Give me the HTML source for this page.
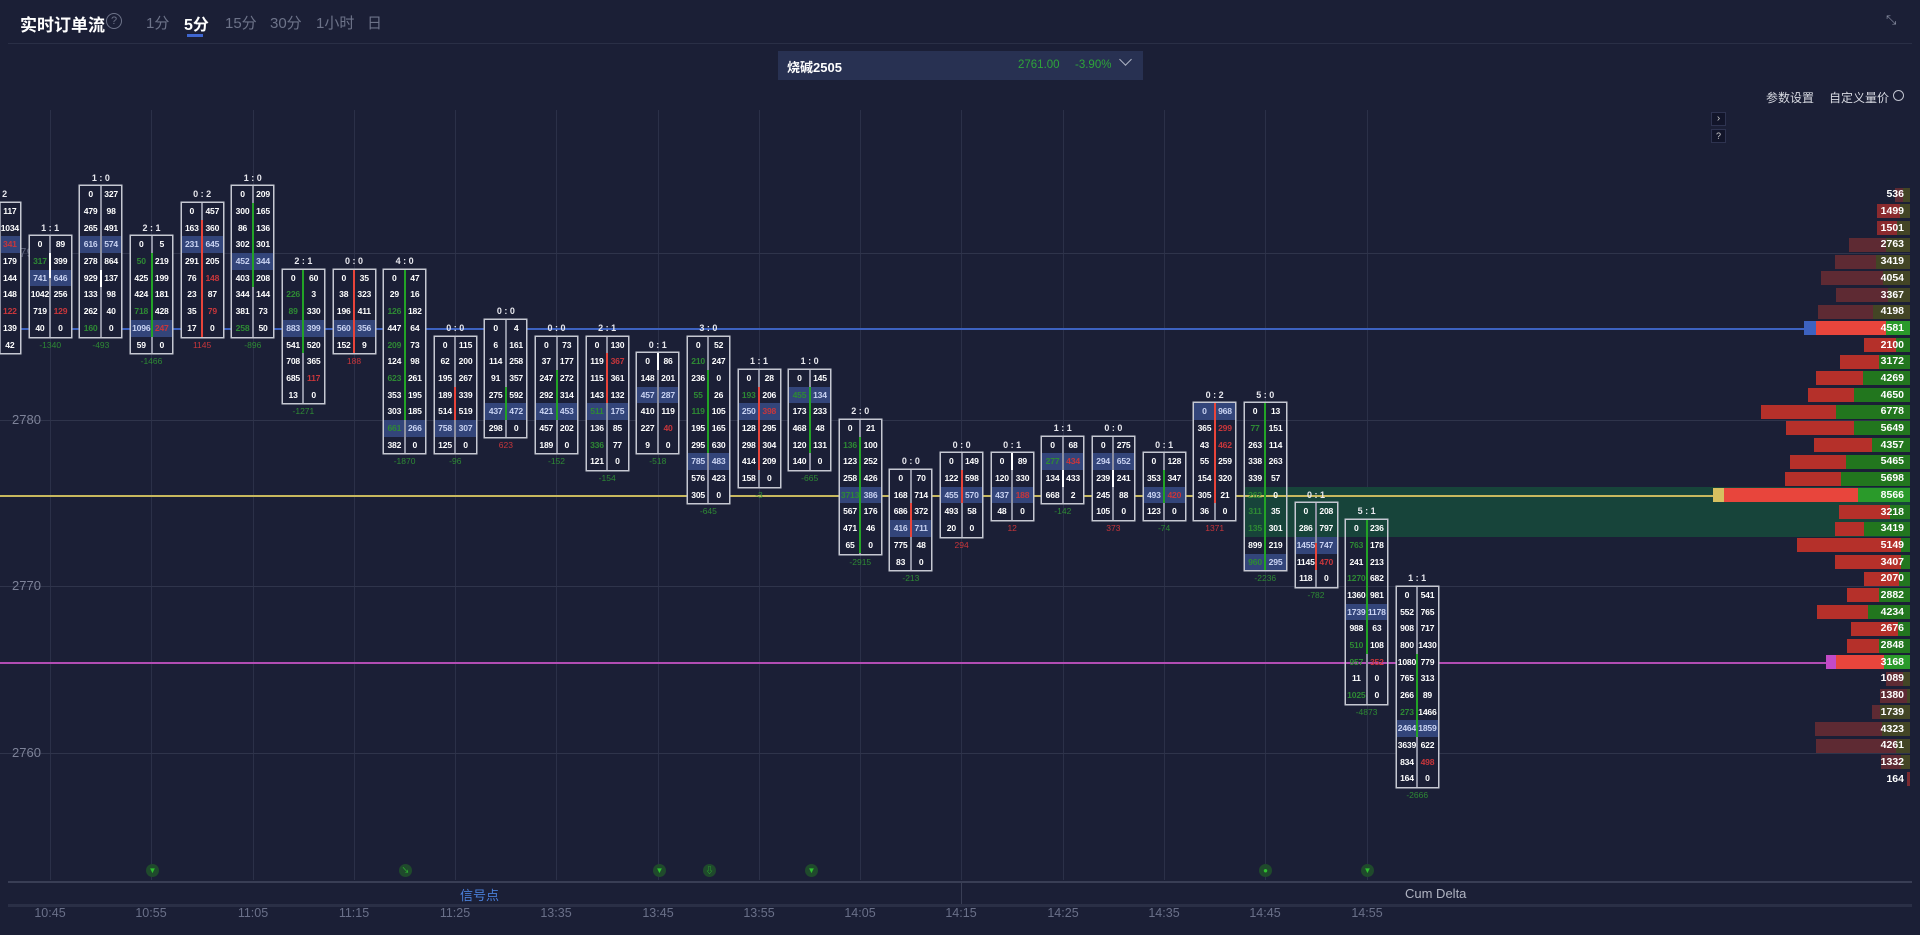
<!DOCTYPE html>
<html><head><meta charset="utf-8">
<style>
*{margin:0;padding:0;box-sizing:border-box}
body{width:1920px;height:935px;background:#1b1f36;position:relative;overflow:hidden;font-family:"Liberation Sans","Noto Sans CJK SC",sans-serif;color:#fff}
.a{position:absolute}
.vg{position:absolute;top:110px;height:770px;width:1px;background:#2b3048}
.hg{position:absolute;left:0;width:1910px;height:1px;background:#2f344b}
.pl{position:absolute;left:12px;font-size:13px;color:#7d8298}
.c{position:absolute;width:41px}
.l{position:absolute;top:-16.69px;left:-15px;right:-15px;text-align:center;font-size:9px;font-weight:bold;line-height:16.69px;color:#e8e8ee;white-space:pre}
.bx{position:relative;box-shadow:0 0 0 1.5px #c6c8d2;background:#1b1f36}
.bx:before{content:"";position:absolute;left:19.5px;top:0;bottom:0;width:2px;background:#8e91a2;z-index:1}
.r{display:flex;height:16.69px;line-height:16.69px}
.r i{flex:1;text-align:center;font-style:normal;font-weight:bold;font-size:8.6px;color:#fff;letter-spacing:-.2px}
.r.h{background:#33457a}
.r.h i{color:#c9d3f2}
i.g{color:#2e8a34!important}
i.d{color:#c8363b!important}
.b{position:absolute;left:19.5px;width:2px;z-index:2}
.bg{background:#22a326}.br{background:#e8443a}.bw{background:#fff}
.dl{text-align:center;font-size:8.5px;height:16.69px;line-height:16.69px;position:absolute;left:-15px;right:-15px}
.dg{color:#2e8a34}.dr{color:#c8363b}
.vp{position:absolute;right:10px;height:14px;display:flex}
.vn{position:absolute;right:16px;font-size:10.5px;font-weight:bold;color:#fff;text-align:right;line-height:16.69px}
.sg{position:absolute;top:864px;width:13px;height:13px;border-radius:50%;background:#1f4a2c;color:#2fbf2f;font-size:8px;text-align:center;line-height:13px}
.tl{position:absolute;top:906px;width:60px;margin-left:-30px;text-align:center;font-size:12.5px;color:#6a7089}
</style></head><body>

<!-- header -->
<div class="a" style="left:20px;top:11px;font-size:17px;font-weight:bold;color:#fff">实时订单流</div>
<div class="a" style="left:106px;top:13px;width:16px;height:16px;border:1.2px solid #6d7389;border-radius:50%;color:#6d7389;font-size:11px;text-align:center;line-height:14px">?</div>
<div class="a" style="left:146px;top:12px;font-size:15px;color:#6d7389">1分</div>
<div class="a" style="left:184px;top:11px;font-size:16px;font-weight:bold;color:#fff">5分</div>
<div class="a" style="left:187px;top:34px;width:16px;height:3px;background:#3f66d0"></div>
<div class="a" style="left:225px;top:12px;font-size:15px;color:#6d7389">15分</div>
<div class="a" style="left:270px;top:12px;font-size:15px;color:#6d7389">30分</div>
<div class="a" style="left:316px;top:12px;font-size:15px;color:#6d7389">1小时</div>
<div class="a" style="left:367px;top:12px;font-size:15px;color:#6d7389">日</div>
<div class="a" style="left:1886px;top:12px;font-size:13px;color:#8a8fa3">⤡</div>
<div class="a" style="left:8px;top:43px;width:1904px;height:1px;background:#2a2f46"></div>

<div class="a" style="left:778px;top:51px;width:365px;height:29px;background:#283152"></div>
<div class="a" style="left:787px;top:57px;font-size:13px;font-weight:bold;color:#fff">烧碱2505</div>
<div class="a" style="left:1018px;top:59px;font-size:11.5px;color:#2ea43a">2761.00</div>
<div class="a" style="left:1075px;top:59px;font-size:11.5px;color:#2ea43a">-3.90%</div>
<div class="a" style="left:1121px;top:55px;width:9px;height:9px;border-right:1.3px solid #aeb3c4;border-bottom:1.3px solid #aeb3c4;transform:rotate(45deg)"></div>

<div class="a" style="left:1766px;top:89px;font-size:12px;color:#d8dae2">参数设置</div>
<div class="a" style="left:1829px;top:89px;font-size:12px;color:#d8dae2">自定义量价</div>
<div class="a" style="left:1893px;top:90px;width:11px;height:11px;border:1.5px solid #c0c3cf;border-radius:50%"></div>
<div class="a" style="left:1711px;top:112px;width:15px;height:14px;background:#12152a;border:1px solid #2e3350;font-size:10px;color:#ccc;text-align:center;line-height:12px">›</div>
<div class="a" style="left:1711px;top:129px;width:15px;height:14px;background:#12152a;border:1px solid #2e3350;font-size:9px;color:#ccc;text-align:center;line-height:12px">?</div>

<!-- grid -->
<div class="vg" style="left:50px"></div><div class="vg" style="left:151px"></div><div class="vg" style="left:253px"></div><div class="vg" style="left:354px"></div><div class="vg" style="left:455px"></div><div class="vg" style="left:556px"></div><div class="vg" style="left:658px"></div><div class="vg" style="left:759px"></div><div class="vg" style="left:860px"></div><div class="vg" style="left:961px"></div><div class="vg" style="left:1063px"></div><div class="vg" style="left:1164px"></div><div class="vg" style="left:1265px"></div><div class="vg" style="left:1367px"></div>
<div class="hg" style="top:253px"></div><div class="hg" style="top:420px"></div><div class="hg" style="top:586px"></div><div class="hg" style="top:753px"></div>
<div class="pl" style="top:245px;color:#5b6078">2790</div>
<div class="pl" style="top:412px">2780</div>
<div class="pl" style="top:578px">2770</div>
<div class="pl" style="top:745px">2760</div>

<!-- green band + lines -->
<div class="a" style="left:1245px;top:487px;width:665px;height:50px;background:#17443a"></div>
<div class="a" style="left:0;top:328px;width:1806px;height:1.5px;background:#3d62c0"></div>
<div class="a" style="left:0;top:495px;width:1722px;height:1.5px;background:#c8b85e"></div>
<div class="a" style="left:0;top:662px;width:1838px;height:1.5px;background:#b24db4"></div>

<!-- candles -->
<div class="c" style="left:-20.9px;top:203.04px"><div class="l">    2</div><div class="bx">
<div class="r"><i>235</i><i>117</i></div><div class="r"><i>88</i><i>1034</i></div><div class="r h"><i>90</i><i class="d">341</i></div><div class="r"><i>12</i><i>179</i></div><div class="r"><i>54</i><i>144</i></div><div class="r"><i>71</i><i>148</i></div><div class="r"><i>30</i><i class="d">122</i></div><div class="r"><i>18</i><i>139</i></div><div class="r"><i>5</i><i>42</i></div></div></div>

<div class="c" style="left:29.7px;top:236.42px"><div class="l">1 : 1</div><div class="bx"><div class="b bw" style="top:16.7px;height:25px"></div>
<div class="r"><i>0</i><i>89</i></div><div class="r"><i class="g">317</i><i>399</i></div><div class="r h"><i>741</i><i>646</i></div><div class="r"><i>1042</i><i>256</i></div><div class="r"><i>719</i><i class="d">129</i></div><div class="r"><i>40</i><i>0</i></div></div><div class="dl dg">-1340</div></div>

<div class="c" style="left:80.4px;top:186.35px"><div class="l">1 : 0</div><div class="bx"><div class="b bw" style="top:83.5px;height:16.7px"></div>
<div class="r"><i>0</i><i>327</i></div><div class="r"><i>479</i><i>98</i></div><div class="r"><i>265</i><i>491</i></div><div class="r h"><i>616</i><i>574</i></div><div class="r"><i>278</i><i>864</i></div><div class="r"><i>929</i><i>137</i></div><div class="r"><i>133</i><i>98</i></div><div class="r"><i>262</i><i>40</i></div><div class="r"><i class="g">160</i><i>0</i></div></div><div class="dl dg">-493</div></div>

<div class="c" style="left:131px;top:236.42px"><div class="l">2 : 1</div><div class="bx"><div class="b bg" style="top:16.7px;height:83.5px"></div>
<div class="r"><i>0</i><i>5</i></div><div class="r"><i class="g">50</i><i>219</i></div><div class="r"><i>425</i><i>199</i></div><div class="r"><i>424</i><i>181</i></div><div class="r"><i class="g">718</i><i>428</i></div><div class="r h"><i>1096</i><i class="d">247</i></div><div class="r"><i>59</i><i>0</i></div></div><div class="dl dg">-1466</div></div>

<div class="c" style="left:181.6px;top:203.04px"><div class="l">0 : 2</div><div class="bx"><div class="b br" style="top:16.7px;height:116.8px"></div>
<div class="r"><i>0</i><i>457</i></div><div class="r"><i>163</i><i>360</i></div><div class="r h"><i>231</i><i>645</i></div><div class="r"><i>291</i><i>205</i></div><div class="r"><i>76</i><i class="d">148</i></div><div class="r"><i>23</i><i>87</i></div><div class="r"><i>35</i><i class="d">79</i></div><div class="r"><i>17</i><i>0</i></div></div><div class="dl dr">1145</div></div>

<div class="c" style="left:232.3px;top:186.35px"><div class="l">1 : 0</div><div class="bx"><div class="b bg" style="top:16.7px;height:83.5px"></div>
<div class="r"><i>0</i><i>209</i></div><div class="r"><i>300</i><i>165</i></div><div class="r"><i>86</i><i>136</i></div><div class="r"><i>302</i><i>301</i></div><div class="r h"><i>452</i><i>344</i></div><div class="r"><i>403</i><i>208</i></div><div class="r"><i>344</i><i>144</i></div><div class="r"><i>381</i><i>73</i></div><div class="r"><i class="g">258</i><i>50</i></div></div><div class="dl dg">-896</div></div>

<div class="c" style="left:282.9px;top:269.8px"><div class="l">2 : 1</div><div class="bx"><div class="b bg" style="top:0;height:83.5px"></div>
<div class="r"><i>0</i><i>60</i></div><div class="r"><i class="g">226</i><i>3</i></div><div class="r"><i class="g">89</i><i>330</i></div><div class="r h"><i>883</i><i>399</i></div><div class="r"><i>541</i><i>520</i></div><div class="r"><i>708</i><i>365</i></div><div class="r"><i>685</i><i class="d">117</i></div><div class="r"><i>13</i><i>0</i></div></div><div class="dl dg">-1271</div></div>

<div class="c" style="left:333.5px;top:269.8px"><div class="l">0 : 0</div><div class="bx"><div class="b br" style="top:0;height:83.5px"></div>
<div class="r"><i>0</i><i>35</i></div><div class="r"><i>38</i><i>323</i></div><div class="r"><i>196</i><i>411</i></div><div class="r h"><i>560</i><i>356</i></div><div class="r"><i>152</i><i>9</i></div></div><div class="dl dr">188</div></div>

<div class="c" style="left:384.1px;top:269.8px"><div class="l">4 : 0</div><div class="bx"><div class="b bg" style="top:0;height:150.2px"></div>
<div class="r"><i>0</i><i>47</i></div><div class="r"><i>29</i><i>16</i></div><div class="r"><i class="g">126</i><i>182</i></div><div class="r"><i>447</i><i>64</i></div><div class="r"><i class="g">209</i><i>73</i></div><div class="r"><i>124</i><i>98</i></div><div class="r"><i class="g">623</i><i>261</i></div><div class="r"><i>353</i><i>195</i></div><div class="r"><i>303</i><i>185</i></div><div class="r h"><i class="g">661</i><i>266</i></div><div class="r"><i>382</i><i>0</i></div></div><div class="dl dg">-1870</div></div>

<div class="c" style="left:434.8px;top:336.56px"><div class="l">0 : 0</div><div class="bx"><div class="b br" style="top:50px;height:33.4px"></div>
<div class="r"><i>0</i><i>115</i></div><div class="r"><i>62</i><i>200</i></div><div class="r"><i>195</i><i>267</i></div><div class="r"><i>189</i><i>339</i></div><div class="r"><i>514</i><i>519</i></div><div class="r h"><i>758</i><i>307</i></div><div class="r"><i>125</i><i>0</i></div></div><div class="dl dg">-96</div></div>

<div class="c" style="left:485.4px;top:319.87px"><div class="l">0 : 0</div><div class="bx"><div class="b bg" style="top:66.8px;height:33.4px"></div>
<div class="r"><i>0</i><i>4</i></div><div class="r"><i>6</i><i>161</i></div><div class="r"><i>114</i><i>258</i></div><div class="r"><i>91</i><i>357</i></div><div class="r"><i>275</i><i>592</i></div><div class="r h"><i>437</i><i>472</i></div><div class="r"><i>298</i><i>0</i></div></div><div class="dl dr">623</div></div>

<div class="c" style="left:536px;top:336.56px"><div class="l">0 : 0</div><div class="bx"><div class="b bg" style="top:33.4px;height:50px"></div>
<div class="r"><i>0</i><i>73</i></div><div class="r"><i>37</i><i>177</i></div><div class="r"><i>247</i><i>272</i></div><div class="r"><i>292</i><i>314</i></div><div class="r h"><i>421</i><i>453</i></div><div class="r"><i>457</i><i>202</i></div><div class="r"><i>189</i><i>0</i></div></div><div class="dl dg">-152</div></div>

<div class="c" style="left:586.7px;top:336.56px"><div class="l">2 : 1</div><div class="bx"><div class="b br" style="top:16.7px;height:50px"></div>
<div class="r"><i>0</i><i>130</i></div><div class="r"><i>119</i><i class="d">367</i></div><div class="r"><i>115</i><i>361</i></div><div class="r"><i>143</i><i>132</i></div><div class="r h"><i class="g">511</i><i>175</i></div><div class="r"><i>136</i><i>85</i></div><div class="r"><i class="g">336</i><i>77</i></div><div class="r"><i>121</i><i>0</i></div></div><div class="dl dg">-154</div></div>

<div class="c" style="left:637.3px;top:353.25px"><div class="l">0 : 1</div><div class="bx"><div class="b bw" style="top:0;height:16.7px"></div>
<div class="r"><i>0</i><i>86</i></div><div class="r"><i>148</i><i>201</i></div><div class="r h"><i>457</i><i>287</i></div><div class="r"><i>410</i><i>119</i></div><div class="r"><i>227</i><i class="d">40</i></div><div class="r"><i>9</i><i>0</i></div></div><div class="dl dg">-518</div></div>

<div class="c" style="left:687.9px;top:336.56px"><div class="l">3 : 0</div><div class="bx"><div class="b bg" style="top:33.4px;height:83.5px"></div>
<div class="r"><i>0</i><i>52</i></div><div class="r"><i class="g">210</i><i>247</i></div><div class="r"><i>236</i><i>0</i></div><div class="r"><i class="g">55</i><i>26</i></div><div class="r"><i class="g">119</i><i>105</i></div><div class="r"><i>195</i><i>165</i></div><div class="r"><i>295</i><i>630</i></div><div class="r h"><i>785</i><i>483</i></div><div class="r"><i>576</i><i>423</i></div><div class="r"><i>305</i><i>0</i></div></div><div class="dl dg">-645</div></div>

<div class="c" style="left:738.5px;top:369.94px"><div class="l">1 : 1</div><div class="bx"><div class="b br" style="top:16.7px;height:83.5px"></div>
<div class="r"><i>0</i><i>28</i></div><div class="r"><i class="g">193</i><i>206</i></div><div class="r h"><i>250</i><i class="d">398</i></div><div class="r"><i>128</i><i>295</i></div><div class="r"><i>298</i><i>304</i></div><div class="r"><i>414</i><i>209</i></div><div class="r"><i>158</i><i>0</i></div></div><div class="dl dg">-3</div></div>

<div class="c" style="left:789.2px;top:369.94px"><div class="l">1 : 0</div><div class="bx"><div class="b bg" style="top:16.7px;height:66.8px"></div>
<div class="r"><i>0</i><i>145</i></div><div class="r h"><i class="g">455</i><i>134</i></div><div class="r"><i>173</i><i>233</i></div><div class="r"><i>468</i><i>48</i></div><div class="r"><i>120</i><i>131</i></div><div class="r"><i>140</i><i>0</i></div></div><div class="dl dg">-665</div></div>

<div class="c" style="left:839.8px;top:420.01px"><div class="l">2 : 0</div><div class="bx"><div class="b bg" style="top:16.7px;height:116.8px"></div>
<div class="r"><i>0</i><i>21</i></div><div class="r"><i class="g">136</i><i>100</i></div><div class="r"><i>123</i><i>252</i></div><div class="r"><i>258</i><i>426</i></div><div class="r h"><i class="g">3713</i><i>386</i></div><div class="r"><i>567</i><i>176</i></div><div class="r"><i>471</i><i>46</i></div><div class="r"><i>65</i><i>0</i></div></div><div class="dl dg">-2915</div></div>

<div class="c" style="left:890.4px;top:470.08px"><div class="l">0 : 0</div><div class="bx"><div class="b br" style="top:33.4px;height:33.4px"></div>
<div class="r"><i>0</i><i>70</i></div><div class="r"><i>168</i><i>714</i></div><div class="r"><i>686</i><i>372</i></div><div class="r h"><i>416</i><i>711</i></div><div class="r"><i>775</i><i>48</i></div><div class="r"><i>83</i><i>0</i></div></div><div class="dl dg">-213</div></div>

<div class="c" style="left:941.1px;top:453.39px"><div class="l">0 : 0</div><div class="bx"><div class="b br" style="top:16.7px;height:33.4px"></div>
<div class="r"><i>0</i><i>149</i></div><div class="r"><i>122</i><i>598</i></div><div class="r h"><i>455</i><i>570</i></div><div class="r"><i>493</i><i>58</i></div><div class="r"><i>20</i><i>0</i></div></div><div class="dl dr">294</div></div>

<div class="c" style="left:991.7px;top:453.39px"><div class="l">0 : 1</div><div class="bx"><div class="b bw" style="top:0;height:16.7px"></div>
<div class="r"><i>0</i><i>89</i></div><div class="r"><i>120</i><i>330</i></div><div class="r h"><i>437</i><i class="d">188</i></div><div class="r"><i>48</i><i>0</i></div></div><div class="dl dr">12</div></div>

<div class="c" style="left:1042.3px;top:436.7px"><div class="l">1 : 1</div><div class="bx"><div class="b bw" style="top:33.4px;height:16.7px"></div>
<div class="r"><i>0</i><i>68</i></div><div class="r h"><i class="g">277</i><i class="d">434</i></div><div class="r"><i>134</i><i>433</i></div><div class="r"><i>668</i><i>2</i></div></div><div class="dl dg">-142</div></div>

<div class="c" style="left:1092.9px;top:436.7px"><div class="l">0 : 0</div><div class="bx"><div class="b bw" style="top:33.4px;height:16.7px"></div>
<div class="r"><i>0</i><i>275</i></div><div class="r h"><i>294</i><i>652</i></div><div class="r"><i>239</i><i>241</i></div><div class="r"><i>245</i><i>88</i></div><div class="r"><i>105</i><i>0</i></div></div><div class="dl dr">373</div></div>

<div class="c" style="left:1143.6px;top:453.39px"><div class="l">0 : 1</div><div class="bx"><div class="b bg" style="top:16.7px;height:33.4px"></div>
<div class="r"><i>0</i><i>128</i></div><div class="r"><i>353</i><i>347</i></div><div class="r h"><i>493</i><i class="d">420</i></div><div class="r"><i>123</i><i>0</i></div></div><div class="dl dg">-74</div></div>

<div class="c" style="left:1194.2px;top:403.32px"><div class="l">0 : 2</div><div class="bx"><div class="b br" style="top:0;height:100px"></div>
<div class="r h"><i>0</i><i>968</i></div><div class="r"><i>365</i><i class="d">299</i></div><div class="r"><i>43</i><i class="d">462</i></div><div class="r"><i>55</i><i>259</i></div><div class="r"><i>154</i><i>320</i></div><div class="r"><i>305</i><i>21</i></div><div class="r"><i>36</i><i>0</i></div></div><div class="dl dr">1371</div></div>

<div class="c" style="left:1244.8px;top:403.32px"><div class="l">5 : 0</div><div class="bx" style="background:transparent"><div class="b bg" style="top:0;height:166.9px"></div>
<div class="r"><i>0</i><i>13</i></div><div class="r"><i class="g">77</i><i>151</i></div><div class="r"><i>263</i><i>114</i></div><div class="r"><i>338</i><i>263</i></div><div class="r"><i>339</i><i>57</i></div><div class="r"><i class="g">262</i><i>0</i></div><div class="r"><i class="g">311</i><i>35</i></div><div class="r"><i class="g">135</i><i>301</i></div><div class="r"><i>899</i><i>219</i></div><div class="r h"><i class="g">960</i><i>295</i></div></div><div class="dl dg">-2236</div></div>

<div class="c" style="left:1295.5px;top:503.46px"><div class="l">0 : 1</div><div class="bx" style="background:transparent"><div class="b br" style="top:40px;height:27px"></div>
<div class="r"><i>0</i><i>208</i></div><div class="r"><i>286</i><i>797</i></div><div class="r h"><i>1455</i><i>747</i></div><div class="r"><i>1145</i><i class="d">470</i></div><div class="r"><i>118</i><i>0</i></div></div><div class="dl dg">-782</div></div>

<div class="c" style="left:1346.1px;top:520.15px"><div class="l">5 : 1</div><div class="bx" style="background:transparent"><div class="b bg" style="top:0;height:133.5px"></div>
<div class="r"><i>0</i><i>236</i></div><div class="r"><i class="g">763</i><i>178</i></div><div class="r"><i>241</i><i>213</i></div><div class="r"><i class="g">1270</i><i>682</i></div><div class="r"><i>1360</i><i>981</i></div><div class="r h"><i>1739</i><i>1178</i></div><div class="r"><i>988</i><i>63</i></div><div class="r"><i class="g">510</i><i>108</i></div><div class="r"><i class="g">957</i><i class="d">352</i></div><div class="r"><i>11</i><i>0</i></div><div class="r"><i class="g">1025</i><i>0</i></div></div><div class="dl dg">-4873</div></div>

<div class="c" style="left:1396.7px;top:586.91px"><div class="l">1 : 1</div><div class="bx"><div class="b bg" style="top:66.8px;height:83.5px"></div>
<div class="r"><i>0</i><i>541</i></div><div class="r"><i>552</i><i>765</i></div><div class="r"><i>908</i><i>717</i></div><div class="r"><i>800</i><i>1430</i></div><div class="r"><i>1080</i><i>779</i></div><div class="r"><i>765</i><i>313</i></div><div class="r"><i>266</i><i>89</i></div><div class="r"><i class="g">273</i><i>1466</i></div><div class="r h"><i>2464</i><i>1859</i></div><div class="r"><i>3639</i><i>622</i></div><div class="r"><i>834</i><i class="d">498</i></div><div class="r"><i>164</i><i>0</i></div></div><div class="dl dg">-2666</div></div>

<!-- volume profile -->
<div class="vp" style="top:187.7px;width:15px"><div style="flex:1;background:#5e2a33"></div><div style="flex:1;background:#434525"></div></div>
<div class="vp" style="top:204.4px;width:33px"><div style="flex:7;background:#8a2a2e"></div><div style="flex:3;background:#434525"></div></div>
<div class="vp" style="top:221.1px;width:33px"><div style="flex:6;background:#8a2a2e"></div><div style="flex:4;background:#434525"></div></div>
<div class="vp" style="top:237.8px;width:61px"><div style="flex:6;background:#5e2a33"></div><div style="flex:4;background:#434525"></div></div>
<div class="vp" style="top:254.5px;width:75px"><div style="flex:55;background:#5e2a33"></div><div style="flex:45;background:#434525"></div></div>
<div class="vp" style="top:271.2px;width:89px"><div style="flex:7;background:#5e2a33"></div><div style="flex:3;background:#434525"></div></div>
<div class="vp" style="top:287.9px;width:74px"><div style="flex:7;background:#5e2a33"></div><div style="flex:3;background:#434525"></div></div>
<div class="vp" style="top:304.6px;width:92px"><div style="flex:6;background:#5e2a33"></div><div style="flex:4;background:#434525"></div></div>
<div class="vp" style="top:321.2px;width:106px"><div style="width:12px;background:#3d62c0"></div><div style="flex:74;background:#e8453c"></div><div style="flex:26;background:#2a9a2a"></div></div>
<div class="vp" style="top:337.9px;width:46px"><div style="flex:7;background:#b5302a"></div><div style="flex:3;background:#22761e"></div></div>
<div class="vp" style="top:354.6px;width:70px"><div style="flex:55;background:#b5302a"></div><div style="flex:45;background:#22761e"></div></div>
<div class="vp" style="top:371.3px;width:94px"><div style="flex:5;background:#b5302a"></div><div style="flex:5;background:#22761e"></div></div>
<div class="vp" style="top:388px;width:102px"><div style="flex:45;background:#b5302a"></div><div style="flex:55;background:#22761e"></div></div>
<div class="vp" style="top:404.7px;width:149px"><div style="flex:5;background:#b5302a"></div><div style="flex:5;background:#22761e"></div></div>
<div class="vp" style="top:421.4px;width:124px"><div style="flex:55;background:#b5302a"></div><div style="flex:45;background:#22761e"></div></div>
<div class="vp" style="top:438.1px;width:96px"><div style="flex:6;background:#b5302a"></div><div style="flex:4;background:#22761e"></div></div>
<div class="vp" style="top:454.8px;width:120px"><div style="flex:47;background:#b5302a"></div><div style="flex:53;background:#22761e"></div></div>
<div class="vp" style="top:471.5px;width:125px"><div style="flex:45;background:#b5302a"></div><div style="flex:55;background:#22761e"></div></div>
<div class="vp" style="top:488.2px;width:197px"><div style="width:11px;background:#d6c060"></div><div style="flex:72;background:#e8453c"></div><div style="flex:28;background:#2a9a2a"></div></div>
<div class="vp" style="top:504.9px;width:71px"><div style="flex:72;background:#b5302a"></div><div style="flex:28;background:#22761e"></div></div>
<div class="vp" style="top:521.6px;width:75px"><div style="flex:38;background:#b5302a"></div><div style="flex:62;background:#22761e"></div></div>
<div class="vp" style="top:538.3px;width:113px"><div style="flex:92;background:#b5302a"></div><div style="flex:8;background:#22761e"></div></div>
<div class="vp" style="top:555px;width:75px"><div style="flex:88;background:#b5302a"></div><div style="flex:12;background:#22761e"></div></div>
<div class="vp" style="top:571.7px;width:46px"><div style="flex:76;background:#b5302a"></div><div style="flex:24;background:#22761e"></div></div>
<div class="vp" style="top:588.4px;width:63px"><div style="flex:5;background:#b5302a"></div><div style="flex:5;background:#22761e"></div></div>
<div class="vp" style="top:605.1px;width:93px"><div style="flex:55;background:#b5302a"></div><div style="flex:45;background:#22761e"></div></div>
<div class="vp" style="top:621.8px;width:59px"><div style="flex:8;background:#b5302a"></div><div style="flex:2;background:#22761e"></div></div>
<div class="vp" style="top:638.5px;width:63px"><div style="flex:5;background:#b5302a"></div><div style="flex:5;background:#22761e"></div></div>
<div class="vp" style="top:655.2px;width:84px"><div style="width:10px;background:#c34ac6"></div><div style="flex:65;background:#e8453c"></div><div style="flex:35;background:#2a9a2a"></div></div>
<div class="vp" style="top:671.9px;width:24px"><div style="flex:7;background:#5e2a33"></div><div style="flex:3;background:#434525"></div></div>
<div class="vp" style="top:688.6px;width:30px"><div style="flex:9;background:#5e2a33"></div><div style="flex:1;background:#434525"></div></div>
<div class="vp" style="top:705.3px;width:38px"><div style="flex:2;background:#5e2a33"></div><div style="flex:8;background:#434525"></div></div>
<div class="vp" style="top:722px;width:95px"><div style="flex:7;background:#5e2a33"></div><div style="flex:3;background:#434525"></div></div>
<div class="vp" style="top:738.7px;width:94px"><div style="flex:85;background:#5e2a33"></div><div style="flex:15;background:#434525"></div></div>
<div class="vp" style="top:755.4px;width:29px"><div style="flex:7;background:#5e2a33"></div><div style="flex:3;background:#434525"></div></div>
<div class="vp" style="top:772.1px;width:3px"><div style="flex:1;background:#7a2a30"></div></div>

<div class="vn" style="top:186.3px">536</div><div class="vn" style="top:203px">1499</div><div class="vn" style="top:219.7px">1501</div><div class="vn" style="top:236.4px">2763</div><div class="vn" style="top:253.1px">3419</div><div class="vn" style="top:269.8px">4054</div><div class="vn" style="top:286.5px">3367</div><div class="vn" style="top:303.2px">4198</div><div class="vn" style="top:319.9px">4581</div><div class="vn" style="top:336.6px">2100</div><div class="vn" style="top:353.3px">3172</div><div class="vn" style="top:370px">4269</div><div class="vn" style="top:386.6px">4650</div><div class="vn" style="top:403.3px">6778</div><div class="vn" style="top:420px">5649</div><div class="vn" style="top:436.7px">4357</div><div class="vn" style="top:453.4px">5465</div><div class="vn" style="top:470.1px">5698</div><div class="vn" style="top:486.8px">8566</div><div class="vn" style="top:503.5px">3218</div><div class="vn" style="top:520.2px">3419</div><div class="vn" style="top:536.9px">5149</div><div class="vn" style="top:553.6px">3407</div><div class="vn" style="top:570.3px">2070</div><div class="vn" style="top:587px">2882</div><div class="vn" style="top:603.6px">4234</div><div class="vn" style="top:620.3px">2676</div><div class="vn" style="top:637px">2848</div><div class="vn" style="top:653.7px">3168</div><div class="vn" style="top:670.4px">1089</div><div class="vn" style="top:687.1px">1380</div><div class="vn" style="top:703.8px">1739</div><div class="vn" style="top:720.5px">4323</div><div class="vn" style="top:737.2px">4261</div><div class="vn" style="top:753.9px">1332</div><div class="vn" style="top:770.6px">164</div>

<!-- signals -->
<div class="sg" style="left:146px">▼</div><div class="sg" style="left:399px">↘</div><div class="sg" style="left:653px">▼</div><div class="sg" style="left:703px">⇩</div><div class="sg" style="left:805px">▼</div><div class="sg" style="left:1259px">●</div><div class="sg" style="left:1361px">▼</div>

<!-- bottom -->
<div class="a" style="left:8px;top:881px;width:1904px;height:2px;background:#393e55"></div>
<div class="a" style="left:961px;top:883px;width:1px;height:22px;background:#393e55"></div>
<div class="a" style="left:460px;top:885px;font-size:13px;color:#4a7fd8">信号点</div>
<div class="a" style="left:1405px;top:886px;font-size:13px;color:#b0b4c2">Cum Delta</div>
<div class="a" style="left:8px;top:904px;width:1904px;height:3px;background:#2a2f46"></div>
<div class="tl" style="left:50px">10:45</div><div class="tl" style="left:151px">10:55</div><div class="tl" style="left:253px">11:05</div><div class="tl" style="left:354px">11:15</div><div class="tl" style="left:455px">11:25</div><div class="tl" style="left:556px">13:35</div><div class="tl" style="left:658px">13:45</div><div class="tl" style="left:759px">13:55</div><div class="tl" style="left:860px">14:05</div><div class="tl" style="left:961px">14:15</div><div class="tl" style="left:1063px">14:25</div><div class="tl" style="left:1164px">14:35</div><div class="tl" style="left:1265px">14:45</div><div class="tl" style="left:1367px">14:55</div>
</body></html>
